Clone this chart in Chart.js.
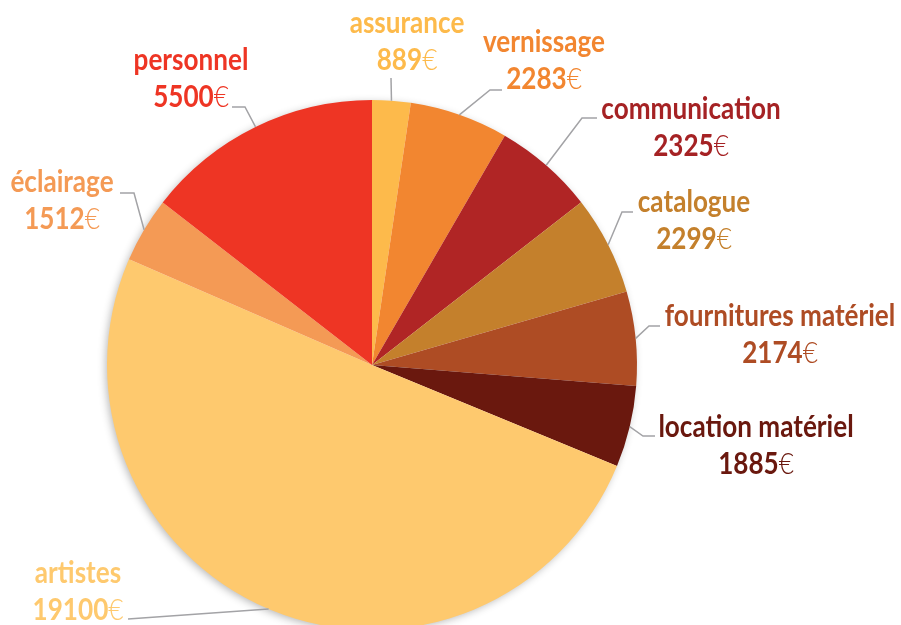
<!DOCTYPE html>
<html>
<head>
<meta charset="utf-8">
<script src="https://cdn.jsdelivr.net/npm/chart.js@4.4.1/dist/chart.umd.min.js"></script>
<style>
  html,body{margin:0;padding:0;background:#fff}
  #wrap{width:901px;height:625px;position:relative;overflow:hidden}
</style>
</head>
<body>
<div id="wrap"><canvas id="pie" width="901" height="625"></canvas></div>
<script>
const labels = ['assurance','vernissage','communication','catalogue','fournitures matériel','location matériel','artistes','éclairage','personnel']
const values = [889,2283,2325,2299,2174,1885,19100,1512,5500]
const colors = ['#FDBA4B','#F28630','#B02525','#C4802C','#AE4C24','#6A180E','#FEC96E','#F49A55','#EE3524']
const textColors = ['#FDBA4B','#F28630','#A52224','#C4802C','#AE4C24','#6A180E','#FEC96E','#F49A55','#EE3524']

// label layout: text centre x, name baseline y, leader elbow + end
const labelPos = [
  { x:407, y:33,  elbow:null,      end:[391,78] },
  { x:544, y:52,  elbow:[490,90],  end:[502,90] },
  { x:691, y:119, elbow:[582,118], end:[597,118] },
  { x:694, y:212, elbow:[622,212], end:[633,212] },
  { x:780, y:326, elbow:[649,326], end:[660,326] },
  { x:756, y:437, elbow:[643,436], end:[655,436] },
  { x:78,  y:583, elbow:null,      end:[128,619] },
  { x:62,  y:192, elbow:[134,193], end:[120,193] },
  { x:191, y:70,  elbow:[245,107], end:[232,107] }
]

const FONT = "Lato,'Open Sans',sans-serif"
const FS = 30
const SX = 0.87   // condensed look

const shadowPlugin = {
  id:'shadow',
  beforeDatasetsDraw(chart){
    const arc = chart.getDatasetMeta(0).data[0]
    if(!arc) return
    const ctx = chart.ctx
    ctx.save()
    ctx.shadowColor = 'rgba(0,0,0,0.3)'
    ctx.shadowBlur = 9
    ctx.shadowOffsetX = -2
    ctx.shadowOffsetY = 2
    ctx.fillStyle = '#fff'
    ctx.beginPath()
    ctx.arc(arc.x, arc.y, arc.outerRadius-1, 0, Math.PI*2)
    ctx.fill()
    ctx.restore()
  }
}

function txt(ctx, s, x, y, weight){
  ctx.font = `${weight} ${FS}px ${FONT}`
  ctx.save()
  ctx.translate(x,y)
  ctx.scale(SX,1)
  ctx.fillText(s,0,0)
  ctx.restore()
}
function width(ctx, s, weight){
  ctx.font = `${weight} ${FS}px ${FONT}`
  return ctx.measureText(s).width*SX
}

const labelPlugin = {
  id:'labels',
  afterDatasetsDraw(chart){
    const ctx = chart.ctx
    const meta = chart.getDatasetMeta(0)
    meta.data.forEach((arc,i)=>{
      const p = labelPos[i]
      const mid = (arc.startAngle+arc.endAngle)/2
      const sx = arc.x + Math.cos(mid)*arc.outerRadius
      const sy = arc.y + Math.sin(mid)*arc.outerRadius
      ctx.save()
      ctx.strokeStyle = '#A3A3A6'
      ctx.lineWidth = 1.5
      ctx.beginPath()
      ctx.moveTo(sx,sy)
      if(p.elbow) ctx.lineTo(p.elbow[0],p.elbow[1])
      ctx.lineTo(p.end[0],p.end[1])
      ctx.stroke()

      ctx.fillStyle = textColors[i]
      ctx.textBaseline = 'alphabetic'
      ctx.textAlign = 'left'
      const wName = width(ctx, labels[i], 'bold')
      txt(ctx, labels[i], p.x - wName/2, p.y, 'bold')
      const num = String(values[i])
      const wNum = width(ctx, num, 'bold')
      const wEur = width(ctx, '€', '300')
      const x0 = p.x - (wNum+wEur)/2
      txt(ctx, num, x0, p.y+37, 'bold')
      txt(ctx, '€', x0+wNum, p.y+37, '300')
      ctx.restore()
    })
  }
}

new Chart(document.getElementById('pie'),{
  type:'pie',
  data:{
    labels:labels,
    datasets:[{ data:values, backgroundColor:colors, borderWidth:0, radius:265 }]
  },
  options:{
    responsive:false, animation:false, devicePixelRatio:1,
    layout:{ padding:{ left:0, right:157, top:105, bottom:0 } },
    plugins:{ legend:{display:false}, tooltip:{enabled:false} }
  },
  plugins:[shadowPlugin,labelPlugin]
})
</script>
</body>
</html>
